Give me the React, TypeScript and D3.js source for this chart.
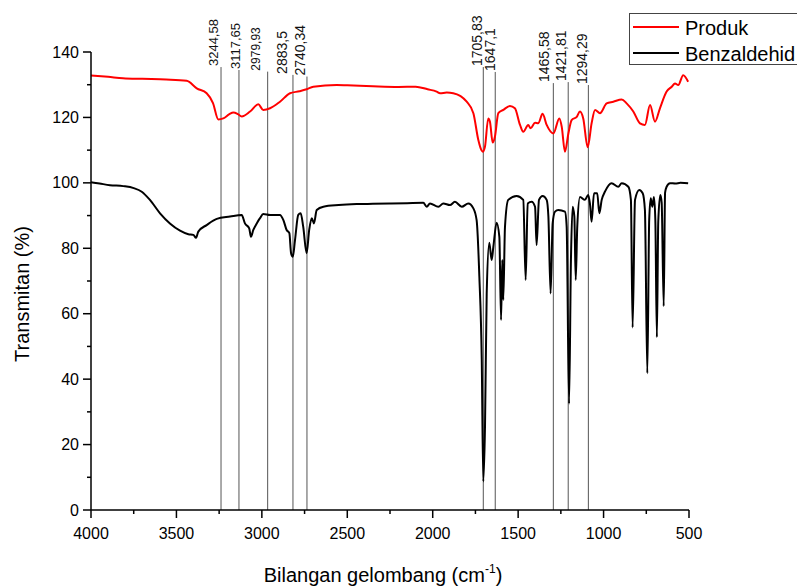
import React from "react";
import * as d3 from "d3";

// [wavenumber cm-1, transmittance %]
const produkSpectrum: [number, number][] = [
  [4000, 132.8], [3900, 132.4], [3813, 132.0], [3700, 131.8], [3560, 131.6], [3440, 131.2],
  [3381, 128.9], [3323, 127.4], [3286, 124.4], [3255, 119.4], [3226, 119.7], [3190, 121.0],
  [3167, 121.5], [3140, 121.0], [3118, 120.3], [3069, 121.8], [3021, 124.0], [2992, 122.3],
  [2952, 122.8], [2894, 124.8], [2835, 127.4], [2780, 128.0], [2738, 128.6], [2699, 129.4],
  [2562, 129.9], [2500, 129.8], [2350, 129.5], [2200, 129.3], [2100, 129.4], [2030, 128.6],
  [1977, 127.9], [1957, 127.4], [1918, 127.6], [1880, 127.4], [1801, 124.8], [1762, 121.3],
  [1733, 113.1], [1715, 110.0], [1707, 109.5], [1694, 111.1], [1675, 119.7], [1665, 118.7],
  [1649, 112.3], [1636, 114.1], [1616, 121.3], [1587, 122.3], [1548, 123.5], [1519, 122.8],
  [1489, 117.7], [1470, 115.6], [1441, 117.7], [1427, 116.7], [1401, 118.4], [1382, 118.2],
  [1357, 121.1], [1333, 117.7], [1294, 115.1], [1259, 119.7], [1245, 117.2], [1226, 109.5],
  [1206, 115.1], [1187, 119.2], [1157, 120.2], [1138, 121.8], [1119, 119.7], [1093, 110.9],
  [1070, 118.2], [1050, 122.3], [1021, 121.3], [982, 124.3], [943, 124.8], [894, 125.5],
  [865, 124.3], [826, 121.8], [787, 118.2], [758, 117.7], [728, 123.8], [699, 118.7],
  [670, 122.8], [631, 127.9], [601, 129.4], [582, 130.4], [563, 129.9], [534, 132.9], [505, 130.9],
];

const benzaldehidSpectrum: [number, number][] = [
  [4000, 100.2], [3950, 99.8], [3889, 99.3], [3811, 99.0], [3750, 98.4], [3703, 97.3],
  [3655, 94.8], [3596, 90.7], [3538, 87.6], [3479, 85.4], [3430, 84.3], [3401, 84.1],
  [3385, 83.2], [3372, 85.1], [3323, 87.1], [3264, 89.0], [3186, 89.7], [3118, 90.2],
  [3099, 87.6], [3074, 86.1], [3064, 83.5], [3050, 85.6], [3030, 87.6], [3011, 89.2],
  [2992, 90.5], [2952, 90.2], [2894, 90.2], [2874, 88.6], [2855, 85.6], [2839, 84.6],
  [2829, 78.5], [2819, 77.4], [2806, 82.5], [2787, 90.2], [2773, 90.7], [2758, 86.6],
  [2738, 78.5], [2723, 85.6], [2708, 89.2], [2695, 87.6], [2679, 91.7], [2640, 92.7],
  [2550, 93.2], [2445, 93.5], [2350, 93.6], [2250, 93.7], [2150, 93.8], [2055, 93.9],
  [2035, 92.7], [2016, 93.7], [1967, 92.7], [1938, 93.7], [1899, 93.2], [1870, 94.2],
  [1830, 92.7], [1792, 93.7], [1762, 92.2], [1743, 88.6], [1727, 71.3], [1713, 45.9],
  [1704, 8.7], [1694, 25.5], [1684, 66.2], [1669, 81.7], [1655, 76.4], [1645, 80.5],
  [1626, 87.8], [1610, 83.5], [1600, 58.1], [1593, 76.4], [1587, 64.2], [1577, 86.6],
  [1558, 94.8], [1509, 96.0], [1470, 94.8], [1456, 70.3], [1444, 93.7], [1421, 94.2],
  [1401, 92.7], [1392, 81.0], [1378, 94.8], [1357, 96.0], [1333, 94.8], [1323, 89.7],
  [1310, 66.2], [1298, 87.6], [1284, 91.2], [1265, 91.7], [1226, 91.2], [1216, 86.6],
  [1202, 32.5], [1191, 76.4], [1181, 92.7], [1171, 89.7], [1163, 70.3], [1154, 86.6],
  [1138, 95.7], [1109, 94.8], [1090, 96.3], [1080, 93.7], [1070, 88.1], [1056, 96.8],
  [1037, 96.8], [1025, 90.7], [1011, 94.8], [992, 97.3], [953, 99.9], [914, 98.8],
  [894, 99.9], [855, 98.8], [840, 94.8], [830, 55.8], [816, 94.8], [791, 97.8],
  [771, 96.8], [758, 91.7], [744, 41.8], [733, 88.6], [724, 95.3], [715, 92.7],
  [705, 95.7], [697, 88.6], [688, 52.8], [680, 88.0], [668, 96.3], [660, 94.0],
  [648, 62.3], [640, 97.0], [631, 98.8], [611, 99.9], [580, 99.8], [550, 100.0], [505, 99.9],
];

const peakLabels = ["3244,58", "3117,65", "2979,93", "2883,5", "2740,34", "1705,83", "1647,1", "1465,58", "1421,81", "1294,29"];
const peakLineAt = [3239, 3134, 2966, 2818, 2736, 1704, 1634, 1294, 1207, 1089];
const peakLineTop = [135.4, 134.5, 134.0, 133.0, 132.5, 135.4, 133.9, 130.5, 130.8, 129.9];

const xTicks = [4000, 3500, 3000, 2500, 2000, 1500, 1000, 500];
const xMinorTicks = [3750, 3250, 2750, 2250, 1750, 1250, 750];
const yTicks = [0, 20, 40, 60, 80, 100, 120, 140];
const yMinorTicks = [10, 30, 50, 70, 90, 110, 130];

const seriesNames = ["Produk", "Benzaldehid"];
const seriesColors = ["#ff0000", "#000000"];

const FONT = "'Liberation Sans', Arial, sans-serif";
// label placement tweaks, px
const labelNudge = [-3, 1, -8, -6, -2, -1, 0, -4, -2, -1];
const labelSize = [13, 13, 12, 14, 14, 14, 14, 14, 14, 14];

export default function App() {
  const W = 797;
  const H = 587;
  const x = d3.scaleLinear().domain([4000, 500]).range([91, 689]);
  const y = d3.scaleLinear().domain([0, 140]).range([510, 52]);

  const line = d3
    .line<[number, number]>()
    .x((d) => x(d[0]))
    .y((d) => y(d[1]))
    .curve(d3.curveMonotoneX);

  const x0 = x(4000);
  const x1 = x(500);
  const yb = y(0);
  const yt = y(140);

  return (
    <svg
      width={W}
      height={H}
      style={{ position: "absolute", left: 0, top: 0, background: "#fff" }}
      fontFamily={FONT}
    >
      {/* peak markers */}
      <g>
        {peakLineAt.map((w, i) => (
          <g key={"pk" + i}>
            <line x1={x(w)} x2={x(w)} y1={y(peakLineTop[i])} y2={yb} stroke="#555" strokeWidth={1} />
            <text
              transform={`translate(${x(w) + labelNudge[i]},${y(peakLineTop[i]) - 1}) rotate(-90)`}
              fontSize={labelSize[i]}
              fill="#111"
            >
              {peakLabels[i]}
            </text>
          </g>
        ))}
      </g>

      {/* spectra */}
      <path d={line(benzaldehidSpectrum) || ""} fill="none" stroke={seriesColors[1]} strokeWidth={2} strokeLinejoin="round" />
      <path d={line(produkSpectrum) || ""} fill="none" stroke={seriesColors[0]} strokeWidth={2} strokeLinejoin="round" />

      {/* axes */}
      <g stroke="#000" strokeWidth={1.5}>
        <line x1={x0} x2={x0} y1={yt} y2={yb} />
        <line x1={x0} x2={x1} y1={yb} y2={yb} />
        {xTicks.map((t) => (
          <line key={"xt" + t} x1={x(t)} x2={x(t)} y1={yb} y2={yb + 8} />
        ))}
        {xMinorTicks.map((t) => (
          <line key={"xm" + t} x1={x(t)} x2={x(t)} y1={yb} y2={yb + 4} />
        ))}
        {yTicks.map((t) => (
          <line key={"yt" + t} x1={x0 - 8} x2={x0} y1={y(t)} y2={y(t)} />
        ))}
        {yMinorTicks.map((t) => (
          <line key={"ym" + t} x1={x0 - 4} x2={x0} y1={y(t)} y2={y(t)} />
        ))}
      </g>
      <g fontSize={16} fill="#000">
        {xTicks.map((t) => (
          <text key={"xl" + t} x={x(t)} y={539} textAnchor="middle">
            {t}
          </text>
        ))}
        {yTicks.map((t) => (
          <text key={"yl" + t} x={79} y={y(t)} dy="0.35em" textAnchor="end">
            {t}
          </text>
        ))}
      </g>

      {/* axis titles */}
      <text transform="translate(29,294) rotate(-90)" textAnchor="middle" fontSize={20}>
        Transmitan (%)
      </text>
      <text x={383} y={582} textAnchor="middle" fontSize={20}>
        <tspan>Bilangan gelombang (cm</tspan>
        <tspan fontSize={12} dy={-9}>-1</tspan>
        <tspan dy={9}>)</tspan>
      </text>

      {/* legend */}
      <g>
        <rect x={629.5} y={13.5} width={200} height={51} fill="#fff" stroke="#444" strokeWidth={1} />
        {seriesNames.map((name, i) => (
          <g key={name}>
            <line x1={633} x2={679} y1={27 + i * 26} y2={27 + i * 26} stroke={seriesColors[i]} strokeWidth={2} />
            <text x={685} y={34.5 + i * 26} fontSize={20} fill="#000">
              {name}
            </text>
          </g>
        ))}
      </g>
    </svg>
  );
}
